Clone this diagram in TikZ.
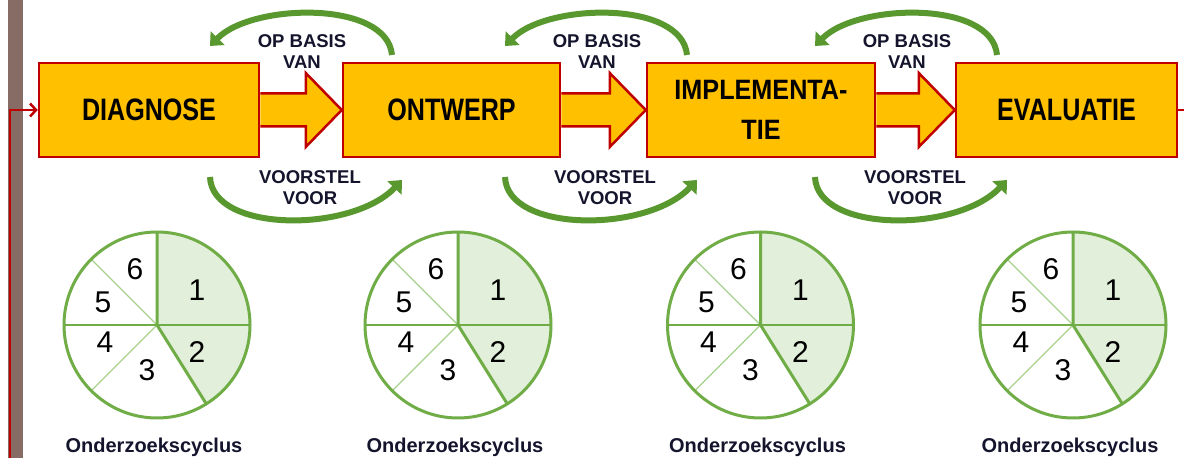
\documentclass[tikz,border=0pt]{standalone}
\usepackage{fontspec}
\setmainfont{Liberation Sans}
\usepackage{tikz}
\usetikzlibrary{arrows.meta,calc}
\definecolor{boxorange}{RGB}{255,192,0}
\definecolor{boxred}{RGB}{192,0,0}
\definecolor{cyclegreen}{RGB}{112,173,71}
\definecolor{lightgreen}{RGB}{226,239,218}
\definecolor{palegreen}{RGB}{169,209,142}
\definecolor{arrowgreen}{RGB}{88,152,46}
\definecolor{barbrown}{RGB}{134,108,100}
\definecolor{darktext}{RGB}{20,20,45}
\newcommand{\Narrow}[2][0.81]{\scalebox{#1}[1]{#2}}
\newcommand{\BlockArrow}[2]{%
    \draw[blockarrow] ($(#1.east)+(0,16.5)$) -- ($(#2.west)+(-36,16.5)$) -- ++(0,20.5) -- (#2.west) -- ($(#2.west)+(-36,-37)$) -- ++(0,20.5) -- ($(#1.east)+(0,-16.5)$);%
}
\tikzset{>=Stealth,
    phase/.style={draw=boxred, line width=2.5pt, fill=boxorange, minimum height=94, minimum width=220, inner sep=0pt, align=center, font=\fontsize{31}{34}\selectfont\bfseries},
    blockarrow/.style={draw=boxred, line width=2.5pt, fill=boxorange, line join=miter},
    redline/.style={draw=boxred, line width=2.5pt},
    cyclearrow/.style={draw=arrowgreen, line width=6pt, -{Triangle[length=11pt,width=19pt]}},
    smalltxt/.style={align=center, text=darktext, font=\fontsize{18.5}{21}\selectfont\bfseries},
    piethick/.style={draw=cyclegreen, line width=3pt},
    piemid/.style={draw=cyclegreen, line width=2pt},
    pielight/.style={draw=palegreen, line width=1.2pt},
    pienum/.style={font=\fontsize{30}{31}\selectfont},
    cyclabel/.style={font=\fontsize{20}{22}\selectfont\bfseries, text=darktext}
}
\begin{document}
\begin{tikzpicture}[x=1pt, y=1pt]
    \fill[white] (0,0) rectangle (1184,458);
    \useasboundingbox (0,0) rectangle (1184,458);
    \fill[barbrown] (8,0) rectangle (23,458);

    % phases
    \node[phase] (diag) at (149,348) {\Narrow{DIAGNOSE}};
    \node[phase, minimum width=217] (ontw) at (451.5,348) {\Narrow{ONTWERP}};
    \node[phase, minimum width=228, font=\fontsize{28}{40}\selectfont\bfseries] (impl) at (761,348) {\Narrow[0.9]{IMPLEMENTA-}\\\Narrow[0.9]{TIE}};
    \node[phase, minimum width=221] (eval) at (1066.5,348) {\Narrow{EVALUATIE}};

    \BlockArrow{diag}{ontw}
    \BlockArrow{ontw}{impl}
    \BlockArrow{impl}{eval}

    \coordinate (entry) at (10,0);
    \coordinate (exit) at (1184,348);
    \draw[redline, -{Straight Barb[length=6pt,width=13pt]}] (entry) |- (diag.west);
    \draw[redline] (eval.east) -- (exit);

    % feedback loops
    \foreach \cx/\i in {302/1,597/2,907/3}{
        \coordinate (ups\i) at (\cx+90,403);
        \coordinate (upe\i) at (\cx-92,412);
        \coordinate (downs\i) at (\cx-92,281);
        \coordinate (downe\i) at (\cx+100,278);
        \draw[cyclearrow] (ups\i) .. controls +(-5,55) and +(42,43) .. (upe\i);
        \draw[cyclearrow] (downs\i) .. controls +(2,-56) and +(-50,-53) .. (downe\i);
        \node[smalltxt] (basis\i) at (\cx,406.5) {OP BASIS\\VAN};
        \node[smalltxt] (voorstel\i) at (\cx+8,270.5) {VOORSTEL\\VOOR};
    }

    % research cycles
    \foreach \px/\k in {157/1,458/2,760.5/3,1073/4}{
        \coordinate (pie\k) at (\px,133);
        \fill[lightgreen] (pie\k) -- ++(0:93) arc[start angle=0, end angle=90, radius=93] -- cycle;
        \fill[lightgreen] (pie\k) -- ++(-58:93) arc[start angle=-58, end angle=0, radius=93] -- cycle;
        \draw[pielight] (pie\k) -- ++(135:93) (pie\k) -- ++(225:93);
        \draw[piemid] (pie\k) -- ++(0:93) (pie\k) -- ++(180:93);
        \draw[piethick] (pie\k) -- ++(90:93) (pie\k) -- ++(-58:93);
        \draw[piethick] (pie\k) circle[radius=93];
        \node[pienum] at (\px+40,168) {1};
        \node[pienum] at (\px+40,106) {2};
        \node[pienum] at (\px-10,88) {3};
        \node[pienum] at (\px-52,116) {4};
        \node[pienum] at (\px-54,156) {5};
        \node[pienum] at (\px-22,189) {6};
        \node[cyclabel] (cyc\k) at (\px-3,11) {Onderzoekscyclus};
    }
\end{tikzpicture}
\end{document}
